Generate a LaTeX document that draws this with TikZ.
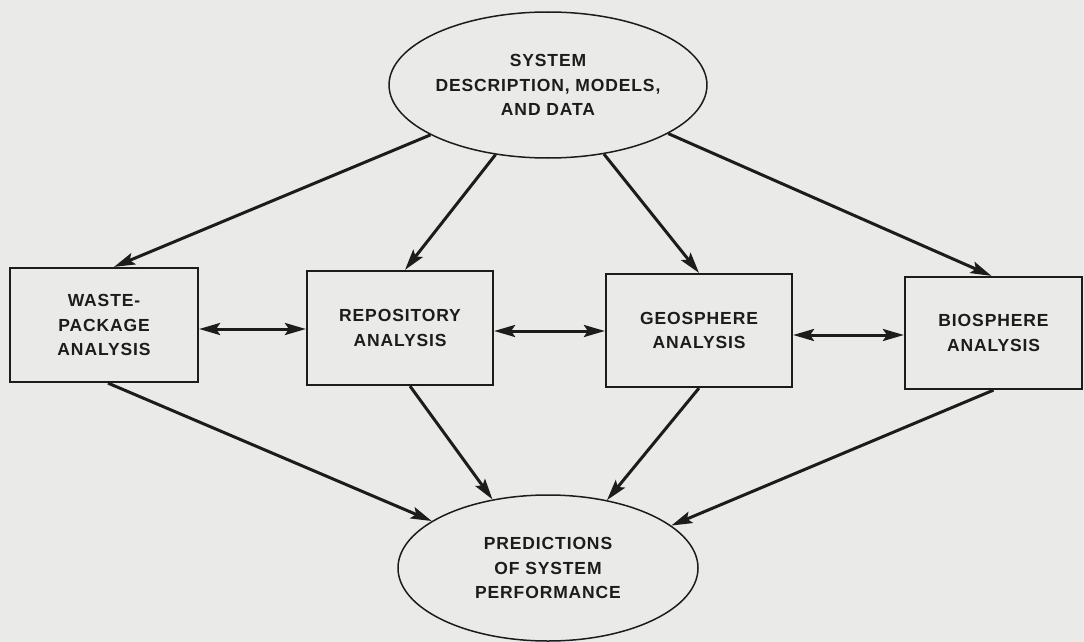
\documentclass[tikz,border=0pt]{standalone}
\usepackage{fontspec}
\setmainfont{Liberation Sans}[LetterSpace=5]
\usetikzlibrary{arrows.meta,shapes.geometric,calc}
\definecolor{paper}{RGB}{234,234,232}
\definecolor{ink}{RGB}{28,28,28}

\begin{document}
\begin{tikzpicture}[x=1pt,y=-1pt,
  every node/.style={font=\fontsize{17.5}{24.5}\selectfont\bfseries,
    text=ink, align=center, inner sep=0pt},
  analysis/.style={draw=ink, line width=2.2pt, rectangle,
    minimum width=186pt, minimum height=114pt},
  hub/.style={draw=ink, line width=1.5pt, ellipse,
    minimum width=300pt, minimum height=146pt},
  flow/.style={draw=ink, line width=3pt,
    -{Stealth[length=21pt,width=12pt,inset=4pt]}},
  link/.style={draw=ink, line width=3pt,
    {Stealth[length=21pt,width=12pt,inset=4pt]}-{Stealth[length=21pt,width=12pt,inset=4pt]}}
]
\fill[paper] (0,0) rectangle (1084,642);
\useasboundingbox (0,0) rectangle (1084,642);

% inputs and results
\node[hub] (sys) at (548,85) {SYSTEM\\DESCRIPTION, MODELS,\\AND DATA};
\node[hub] (pred) at (548,568) {PREDICTIONS\\OF SYSTEM\\PERFORMANCE};

% the four analyses
\node[analysis, minimum width=188pt] (waste) at (104,325) {WASTE-\\PACKAGE\\ANALYSIS};
\node[analysis] (repo) at (400,328) {REPOSITORY\\ANALYSIS};
\node[analysis, minimum height=113pt] (geo) at (699,330.5) {GEOSPHERE\\ANALYSIS};
\node[analysis, minimum width=177pt, minimum height=112pt] (bio) at (993.5,333) {BIOSPHERE\\ANALYSIS};

% system description feeds every analysis
\draw[flow] (sys.203.3) -- ([xshift=10pt]waste.north);
\draw[flow] (sys.233.3) -- ([xshift=5pt]repo.north);
\draw[flow] (sys.309.2) -- (geo.north);
\draw[flow] (sys.338) -- ([xshift=-2pt]bio.north);

% coupling between neighbouring analyses
\draw[link] (waste.east |- 0,329) -- (repo.west |- 0,329);
\draw[link] (repo.east |- 0,331) -- (geo.west |- 0,331);
\draw[link] (geo.east |- 0,335) -- (bio.west |- 0,335);

% every analysis contributes to the predictions
\draw[flow] ([xshift=4pt]waste.south) -- (pred.158.4);
\draw[flow] ([xshift=10pt]repo.south) -- (pred.129);
\draw[flow] (geo.south) -- (pred.49);
\draw[flow] (bio.south) -- (pred.19.9);
\end{tikzpicture}
\end{document}
